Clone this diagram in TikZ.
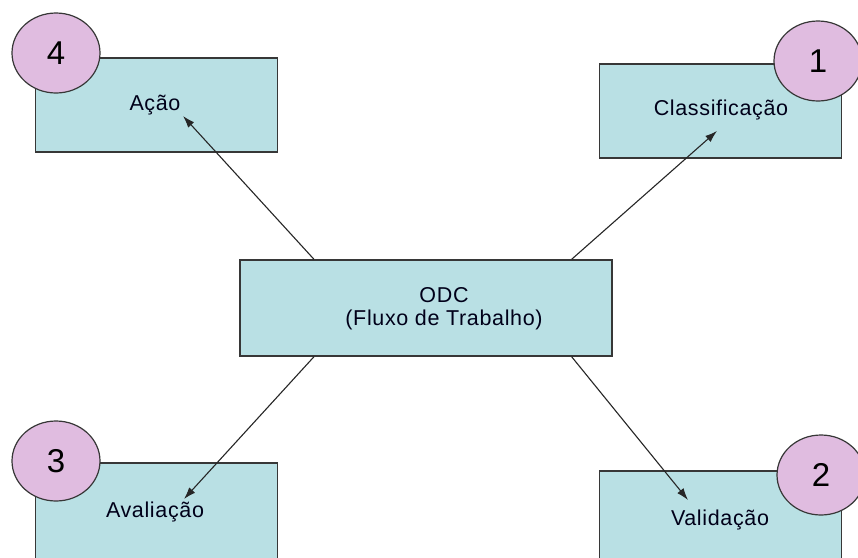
\documentclass[tikz,border=0pt]{standalone}
\usepackage{fontspec}
\setmainfont{Liberation Sans}[LetterSpace=3]
\usetikzlibrary{shapes.geometric,arrows.meta,calc}
\definecolor{boxfill}{RGB}{185,224,228}
\definecolor{badgefill}{RGB}{224,188,224}
\definecolor{edgegray}{RGB}{55,55,55}
\tikzset{
  stepbox/.style={draw=edgegray,line width=1.4pt,fill=boxfill,rectangle,inner sep=0pt,
    minimum width=242pt,minimum height=94pt},
  boxtext/.style={font=\fontsize{21.5}{24}\selectfont,text=black!90!blue,inner sep=0pt},
  badge/.style={draw=edgegray,line width=1.2pt,fill=badgefill,ellipse,inner sep=0pt,
    minimum width=88pt,minimum height=80pt,font=\fontsize{33}{33}\selectfont},
  link/.style={draw=black!85,line width=1.1pt,-{Latex[length=12pt,width=8pt]}}
}
\begin{document}
\begin{tikzpicture}[x=1pt,y=-1pt]
\useasboundingbox (0,0) rectangle (858,557);
\clip (0,0) rectangle (858,557);
\fill[white] (0,0) rectangle (858,557);

% process boxes
\node[stepbox] (acao) at (156.5,105) {};
\node[stepbox] (class) at (720.5,111) {};
\node[stepbox,minimum height=98pt] (aval) at (156.5,512) {};
\node[stepbox,minimum height=98pt] (valid) at (720.5,520) {};
\node[stepbox,minimum width=372pt,minimum height=96pt] (odc) at (426,308) {};

% box labels
\node[boxtext] (tacao) at (155,105) {Ação};
\node[boxtext] (tclass) at (721,110) {Classificação};
\node[boxtext] (taval) at (155,512) {Avaliação};
\node[boxtext] (tvalid) at (720,520) {Validação};
\node[boxtext,align=center] (todc) at (444,309) {ODC\\[-1pt](Fluxo de Trabalho)};

% numbered badges
\node[badge] (b4) at (56,53) {4};
\node[badge] (b1) at (818,61) {1};
\node[badge] (b3) at (56,461) {3};
\node[badge] (b2) at (821,475) {2};

% connector end points
\coordinate (s4) at ($(odc.north west)!0.2!(odc.north east)$);
\coordinate (s1) at ($(odc.north west)!0.89!(odc.north east)$);
\coordinate (s3) at ($(odc.south west)!0.2!(odc.south east)$);
\coordinate (s2) at ($(odc.south west)!0.89!(odc.south east)$);
\coordinate (e4) at (183,116);
\coordinate (e1) at (717,131);
\coordinate (e3) at (184,499);
\coordinate (e2) at (688,500);

\draw[link] (s4) -- (e4);
\draw[link] (s1) -- (e1);
\draw[link] (s3) -- (e3);
\draw[link] (s2) -- (e2);
\end{tikzpicture}
\end{document}
